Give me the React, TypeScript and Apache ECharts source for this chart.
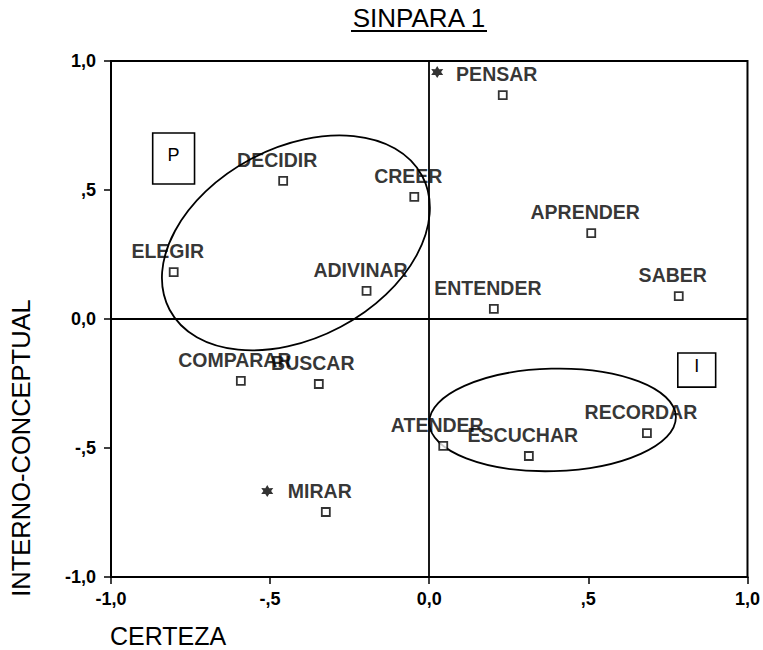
import React, { useEffect, useRef } from "react";
import * as echarts from "echarts";

// ---- data ----
const pointNames = ["PENSAR", "DECIDIR", "CREER", "APRENDER", "ELEGIR", "ADIVINAR", "ENTENDER", "SABER", "COMPARAR", "BUSCAR", "ATENDER", "ESCUCHAR", "RECORDAR", "MIRAR"];
const certeza = [0.231, -0.459, -0.047, 0.509, -0.803, -0.197, 0.203, 0.784, -0.592, -0.347, 0.044, 0.313, 0.684, -0.325];
const internoConceptual = [0.868, 0.535, 0.473, 0.333, 0.182, 0.109, 0.039, 0.089, -0.240, -0.252, -0.492, -0.531, -0.442, -0.748];

const starX = [0.025, -0.509];
const starY = [0.957, -0.667];

// ellipses: centre x, centre y, semi-major, semi-minor (x-axis units), rotation (deg)
const ellipseCx = [-0.419, 0.3875];
const ellipseCy = [0.295, -0.391];
const ellipseA = [0.449, 0.3875];
const ellipseB = [0.299, 0.161];
const ellipseRot = [27.9, 1.5];

// boxed letters: left, top, right, bottom
const boxLabels = ["P", "I"];
const boxLeft = [-0.869, 0.781];
const boxTop = [0.721, -0.132];
const boxRight = [-0.7375, 0.9];
const boxBottom = [0.523, -0.264];

const tickValues = [-1, -0.5, 0, 0.5, 1];
const tickLabels = ["-1,0", "-,5", "0,0", ",5", "1,0"];

const FONT = "'Liberation Sans', Arial, Helvetica, sans-serif";

function fmtTick(v: number) {
  const i = tickValues.findIndex((t) => Math.abs(t - v) < 1e-9);
  return i >= 0 ? tickLabels[i] : "";
}

export default function App() {
  const ref = useRef<HTMLDivElement>(null);
  useEffect(() => {
    const chart = echarts.init(ref.current!, null, { renderer: "svg" });
    const axisCommon = {
      type: "value",
      min: -1,
      max: 1,
      interval: 0.5,
      splitLine: { show: false },
      axisLine: { show: true, onZero: false, lineStyle: { color: "#000", width: 2 } },
      axisTick: { show: true, inside: false, length: 7, lineStyle: { color: "#000", width: 1.5 } },
      axisLabel: {
        formatter: fmtTick,
        color: "#000",
        fontFamily: FONT,
        fontSize: 18,
        fontWeight: "bold",
      },
    };
    const option: any = {
      animation: false,
      backgroundColor: "#fff",
      grid: { left: 111, top: 61, width: 640, height: 516, show: true, borderColor: "#000", borderWidth: 2, backgroundColor: "transparent" },
      xAxis: { ...axisCommon, position: "bottom", axisLabel: { ...axisCommon.axisLabel, margin: 13 } },
      yAxis: { ...axisCommon, position: "left", axisLabel: { ...axisCommon.axisLabel, margin: 15 } },
      graphic: [
        {
          type: "text",
          x: 419,
          y: 18,
          style: { text: "SINPARA 1", fontSize: 26, fontFamily: FONT, fill: "#000", align: "center", verticalAlign: "middle" },
        },
        { type: "line", shape: { x1: 351, y1: 31, x2: 487, y2: 31 }, style: { stroke: "#000", lineWidth: 2.2 } },
        {
          type: "text",
          x: 110,
          y: 636,
          style: { text: "CERTEZA", fontSize: 25, fontFamily: FONT, fill: "#000", align: "left", verticalAlign: "middle" },
        },
        {
          type: "text",
          x: 21,
          y: 448,
          rotation: Math.PI / 2,
          style: { text: "INTERNO-CONCEPTUAL", fontSize: 25.5, fontFamily: FONT, fill: "#000", align: "center", verticalAlign: "middle" },
        },
      ],
      series: [
        {
          type: "custom",
          silent: true,
          z: 3,
          encode: { x: 0, y: 1 },
          data: ellipseCx.map((cx, i) => [cx, ellipseCy[i], ellipseA[i], ellipseB[i], ellipseRot[i]]),
          renderItem: (params: any, api: any) => {
            const c = api.coord([api.value(0), api.value(1)]);
            const s = api.size([1, 1]);
            return {
              type: "ellipse",
              x: c[0],
              y: c[1],
              rotation: (api.value(4) * Math.PI) / 180,
              shape: { cx: 0, cy: 0, rx: api.value(2) * s[0], ry: api.value(3) * s[0] },
              style: { fill: "transparent", stroke: "#000", lineWidth: 1.8 },
            };
          },
        },
        {
          type: "custom",
          silent: true,
          z: 3,
          encode: { x: [0, 2], y: [1, 3] },
          data: boxLeft.map((l, i) => [l, boxTop[i], boxRight[i], boxBottom[i]]),
          renderItem: (params: any, api: any) => {
            const p1 = api.coord([api.value(0), api.value(1)]);
            const p2 = api.coord([api.value(2), api.value(3)]);
            return {
              type: "group",
              children: [
                {
                  type: "rect",
                  shape: { x: p1[0], y: p1[1], width: p2[0] - p1[0], height: p2[1] - p1[1] },
                  style: { fill: "#fff", stroke: "#000", lineWidth: 1.6 },
                },
                {
                  type: "text",
                  x: (p1[0] + p2[0]) / 2,
                  y: (p1[1] + p2[1]) / 2 - 4,
                  style: { text: boxLabels[params.dataIndex], fontSize: 18, fontFamily: FONT, fill: "#000", align: "center", verticalAlign: "middle" },
                },
              ],
            };
          },
        },
        {
          type: "scatter",
          z: 5,
          symbol: "rect",
          symbolSize: 8,
          itemStyle: { color: "#fff", borderColor: "#000", borderWidth: 1.8 },
          label: {
            show: true,
            position: "top",
            distance: 6,
            offset: [-6, 0],
            formatter: (p: any) => p.name,
            color: "#000",
            fontFamily: FONT,
            fontSize: 19.5,
            fontWeight: "bold",
          },
          data: pointNames.map((n, i) => ({ name: n, value: [certeza[i], internoConceptual[i]] })),
          markLine: {
            silent: true,
            symbol: ["none", "none"],
            label: { show: false },
            lineStyle: { color: "#000", width: 1.8, type: "solid" },
            emphasis: { disabled: true },
            data: [{ xAxis: 0 }, { yAxis: 0 }],
          },
        },
        {
          type: "scatter",
          z: 5,
          symbol: "path://M5,0 L6.4,2.6 L9.33,2.5 L7.8,5 L9.33,7.5 L6.4,7.4 L5,10 L3.6,7.4 L0.67,7.5 L2.2,5 L0.67,2.5 L3.6,2.6 Z",
          symbolSize: 12,
          itemStyle: { color: "#000" },
          data: starX.map((x, i) => [x, starY[i]]),
        },
      ],
    };
    chart.setOption(option);
    return () => chart.dispose();
  }, []);
  return <div ref={ref} style={{ position: "fixed", left: 0, top: 0, width: 763, height: 650, background: "#fff" }} />;
}
